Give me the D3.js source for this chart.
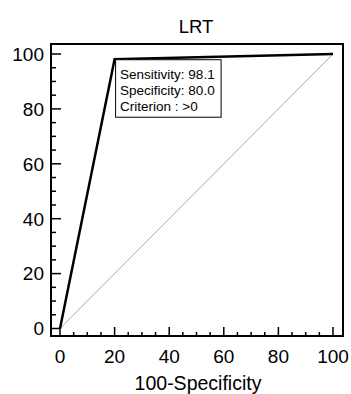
<!DOCTYPE html>
<html><head><meta charset="utf-8">
<script src="https://cdn.jsdelivr.net/npm/d3@7"></script>
<style>body{margin:0;background:#fff}svg{display:block}</style>
</head><body>
<script>
const rocX = [0, 20, 100];
const rocY = [0, 98.1, 100];
const diagX = [0, 100];
const diagY = [0, 100];
const tickValues = [0, 20, 40, 60, 80, 100];
const minorTicks = d3.range(0, 101, 5);
const infoLines = ["Sensitivity: 98.1", "Specificity: 80.0", "Criterion : >0"];
const title = "LRT";
const xTitle = "100-Specificity";

const W = 351, H = 394;
const svg = d3.select("body").append("svg").attr("width", W).attr("height", H);
const font = "Liberation Sans, Arial, Helvetica, sans-serif";

const x = d3.scaleLinear().domain([0, 100]).range([60, 333]);
const y = d3.scaleLinear().domain([0, 100]).range([328.5, 54]);
const frame = {l: 51, t: 44, r: 343, b: 336};

// diagonal
svg.append("path")
  .attr("d", d3.line().x(d => x(d[0])).y(d => y(d[1]))(diagX.map((v, i) => [v, diagY[i]])))
  .attr("fill", "none").attr("stroke", "#a8a8a8").attr("stroke-width", 1);

// ROC
svg.append("path")
  .attr("d", d3.line().x(d => x(d[0])).y(d => y(d[1]))(rocX.map((v, i) => [v, rocY[i]])))
  .attr("fill", "none").attr("stroke", "#000").attr("stroke-width", 2.5).attr("stroke-linejoin", "miter");

// frame
svg.append("rect").attr("x", frame.l).attr("y", frame.t)
  .attr("width", frame.r - frame.l).attr("height", frame.b - frame.t)
  .attr("fill", "none").attr("stroke", "#000").attr("stroke-width", 2);

// y ticks (inward from left edge)
const gy = svg.append("g");
minorTicks.forEach(v => {
  const major = v % 20 === 0;
  gy.append("line").attr("x1", frame.l).attr("x2", frame.l + (major ? 10 : 5))
    .attr("y1", y(v)).attr("y2", y(v)).attr("stroke", "#000").attr("stroke-width", 1.5);
});
tickValues.forEach(v => {
  gy.append("text").attr("x", frame.l - 7).attr("y", y(v)).attr("dy", "0.36em")
    .attr("text-anchor", "end").attr("font-family", font).attr("font-size", 19).text(v);
});
// x ticks (inward from bottom edge)
const gx = svg.append("g");
minorTicks.forEach(v => {
  const major = v % 20 === 0;
  gx.append("line").attr("y1", frame.b).attr("y2", frame.b - (major ? 9 : 4))
    .attr("x1", x(v)).attr("x2", x(v)).attr("stroke", "#000").attr("stroke-width", 1.5);
});
tickValues.forEach(v => {
  gx.append("text").attr("x", x(v)).attr("y", 363)
    .attr("text-anchor", "middle").attr("font-family", font).attr("font-size", 19).text(v);
});

// title & axis label
svg.append("text").attr("x", 196).attr("y", 33).attr("text-anchor", "middle")
  .attr("font-family", font).attr("font-size", 18.5).text(title);
svg.append("text").attr("x", 198).attr("y", 390).attr("text-anchor", "middle")
  .attr("font-family", font).attr("font-size", 19.5).text(xTitle);

// info box anchored at the cut point
const bx = x(rocX[1]) + 1, by = y(rocY[1]) + 0.5;
svg.append("rect").attr("x", bx).attr("y", by).attr("width", 105.5).attr("height", 57.5)
  .attr("fill", "#fff").attr("stroke", "#000").attr("stroke-width", 1);
infoLines.forEach((t, i) => {
  svg.append("text").attr("x", bx + 4.5).attr("y", by + 19.5 + i * 16)
    .attr("font-family", font).attr("font-size", 13.5).text(t);
});
</script>
</body></html>
